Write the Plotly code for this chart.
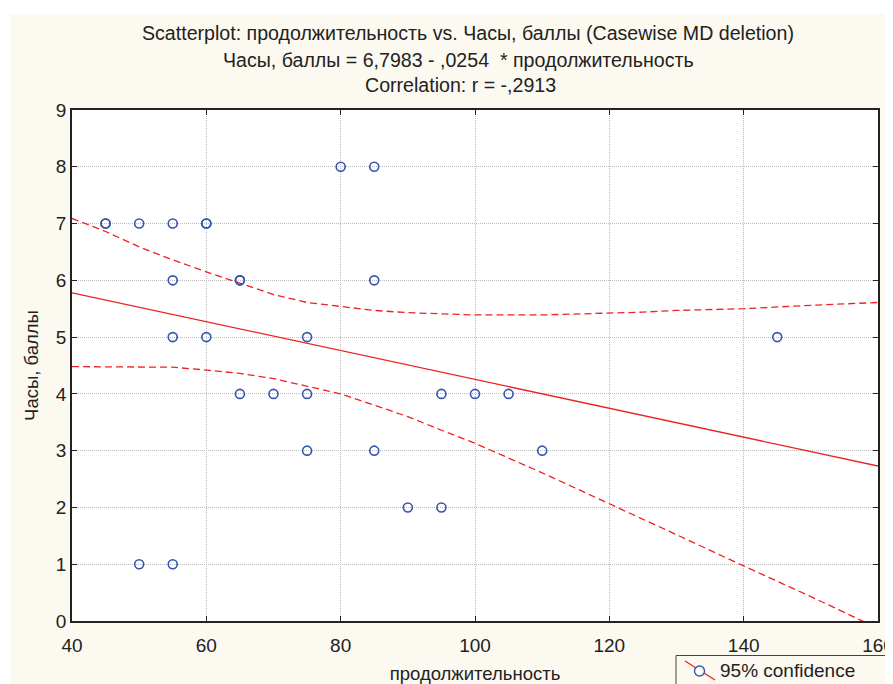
import plotly.graph_objects as go

# ---- data ----
dur = [45, 45, 50, 55, 60, 60, 55, 65, 65, 55, 60, 75, 65, 70, 75, 75, 80, 85, 85, 85,
       90, 95, 95, 100, 105, 110, 145, 50, 55]
score = [7, 7, 7, 7, 7, 7, 6, 6, 6, 5, 5, 5, 4, 4, 4, 3, 8, 8, 6, 3,
         2, 2, 4, 4, 4, 3, 5, 1, 1]

reg_x = [40, 160]
reg_y = [5.78, 2.73]

up_x = [40, 45, 50, 55, 60, 65, 70, 75, 80, 85, 90, 95, 100, 110, 120, 125, 130, 140, 150, 160]
up_y = [7.09, 6.86, 6.59, 6.36, 6.15, 5.95, 5.75, 5.61, 5.54, 5.47, 5.43, 5.41, 5.39, 5.39,
        5.42, 5.44, 5.47, 5.50, 5.56, 5.61]
lo_x = [40, 50, 55, 60, 65, 70, 75, 80, 85, 90, 95, 100, 110, 120, 130, 140, 150, 160]
lo_y = [4.48, 4.48, 4.47, 4.42, 4.36, 4.27, 4.14, 4.00, 3.80, 3.60, 3.36, 3.13, 2.61,
        2.07, 1.52, 0.97, 0.43, -0.13]

x_ticks = [40, 60, 80, 100, 120, 140, 160]
y_ticks = [0, 1, 2, 3, 4, 5, 6, 7, 8, 9]

title1 = "Scatterplot: продолжительность vs. Часы, баллы (Casewise MD deletion)"
title2 = "Часы, баллы = 6,7983 - ,0254  * продолжительность"
title3 = "Correlation: r = -,2913"
x_title = "продолжительность"
y_title = "Часы, баллы"
legend_text = "95% confidence"

# ---- layout geometry (screen pixels; page body has an 8px margin) ----
OFF = 8
SW, SH = 893, 684
W, H = SW - OFF, SH - OFF
L, R, T, B = 72, 878, 110, 621   # plot area in screen pixels
FONT = "Liberation Sans, Arial, sans-serif"
TXT = "#222222"
RED = "#EE2222"
BLUE = "#3553B0"


def px(xs):
    return (xs - L) / (R - L)


def py(ys):
    return (B - ys) / (B - T)


fig = go.Figure()

fig.add_trace(go.Scatter(x=reg_x, y=reg_y, mode="lines",
                         line=dict(color=RED, width=1.3), showlegend=False, hoverinfo="skip"))
fig.add_trace(go.Scatter(x=up_x, y=up_y, mode="lines",
                         line=dict(color=RED, width=1.3, dash="7px,4px"), showlegend=False))
fig.add_trace(go.Scatter(x=lo_x, y=lo_y, mode="lines",
                         line=dict(color=RED, width=1.3, dash="7px,4px"), showlegend=False))
fig.add_trace(go.Scatter(x=dur, y=score, mode="markers",
                         marker=dict(symbol="circle-open", size=9, color=BLUE,
                                     line=dict(width=1.6, color=BLUE)),
                         showlegend=False))

axis_common = dict(
    showline=True, linecolor="#222222", linewidth=1.5, mirror="ticks",
    ticks="inside", ticklen=5, tickcolor="#222222", tickwidth=1,
    showgrid=True, gridcolor="#BDBDBD", griddash="1px,1px", gridwidth=1,
    zeroline=False, tickfont=dict(family=FONT, size=19, color=TXT),
    ticklabeloverflow="allow", automargin=False,
)

fig.update_xaxes(range=[40, 160], tickvals=x_ticks, ticktext=[str(v) for v in x_ticks],
                 ticklabelstandoff=6,
                 title=dict(text=x_title, font=dict(family=FONT, size=18.5, color=TXT), standoff=18),
                 **axis_common)
fig.update_yaxes(range=[0, 9], tickvals=y_ticks, ticktext=[str(v) for v in y_ticks],
                 title=dict(text=y_title, font=dict(family=FONT, size=18.5, color=TXT), standoff=12),
                 **axis_common)

shapes = [
    # cream background panel
    dict(type="rect", xref="paper", yref="paper", layer="below",
         x0=px(10), x1=px(SW + 5), y0=py(14), y1=py(SH + 5),
         fillcolor="#FCF9F1", line=dict(width=0)),
    # white plot area
    dict(type="rect", xref="paper", yref="paper", layer="below",
         x0=0, x1=1, y0=0, y1=1, fillcolor="white", line=dict(width=0)),
    # legend box
    dict(type="rect", xref="paper", yref="paper",
         x0=px(676), x1=px(SW + 10), y0=py(655.5), y1=py(SH + 10),
         fillcolor="#FCF9F1", line=dict(color="#444444", width=1)),
    # legend symbol line
    dict(type="line", xref="paper", yref="paper",
         x0=px(685), y0=py(661), x1=px(715), y1=py(680),
         line=dict(color=RED, width=1.3)),
    # legend symbol circle
    dict(type="circle", xref="paper", yref="paper",
         x0=px(694.5), x1=px(704.5), y0=py(666), y1=py(676),
         fillcolor="white", line=dict(color=BLUE, width=1.4)),
]

annotations = [
    dict(text=title1, x=px(468), y=py(33), xref="paper", yref="paper", showarrow=False,
         xanchor="center", yanchor="middle", font=dict(family=FONT, size=19.6, color=TXT)),
    dict(text=title2, x=px(458), y=py(60), xref="paper", yref="paper", showarrow=False,
         xanchor="center", yanchor="middle", font=dict(family=FONT, size=19.6, color=TXT)),
    dict(text=title3, x=px(460), y=py(85), xref="paper", yref="paper", showarrow=False,
         xanchor="center", yanchor="middle", font=dict(family=FONT, size=19.6, color=TXT)),
    dict(text=legend_text, x=px(718), y=py(670), xref="paper", yref="paper", showarrow=False,
         xanchor="left", yanchor="middle", font=dict(family=FONT, size=19, color=TXT)),
]

fig.update_layout(
    width=W, height=H,
    margin=dict(l=L - OFF, r=SW - R, t=T - OFF, b=SH - B, pad=0, autoexpand=False),
    paper_bgcolor="white", plot_bgcolor="white",
    shapes=shapes, annotations=annotations, showlegend=False,
    font=dict(family=FONT, color=TXT),
)

fig.write_html("out.html")
